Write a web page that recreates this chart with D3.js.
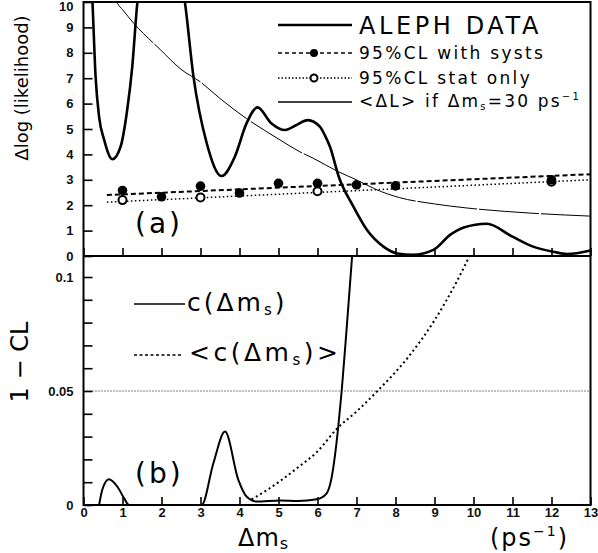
<!DOCTYPE html>
<html>
<head>
<meta charset="utf-8">
<script src="https://cdn.jsdelivr.net/npm/d3@7"></script>
<style>
  body { margin: 0; background: #fff; }
  svg { display: block; font-family: 'DejaVu Sans', sans-serif; }
</style>
</head>
<body>
<svg id="chart" width="598" height="553"></svg>
<script>
// panel (a): ALEPH likelihood curve
const alephX = [0.2, 0.23, 0.31, 0.40, 0.53, 0.74, 0.95, 1.12, 1.25, 1.38, 1.5, 2.5, 2.6, 2.82, 3.16, 3.54, 3.88, 4.18, 4.46, 4.82, 5.17, 5.45, 5.75, 6.06, 6.19, 6.32, 6.55, 6.9, 7.27, 7.69, 8.05, 8.45, 8.97, 9.4, 9.75, 10.34, 11.0, 11.53, 12.04, 12.4, 13.0];
const alephY = [11, 10, 7.06, 5.48, 4.57, 3.81, 4.3, 5.75, 7.45, 9.95, 11, 11, 10, 7.06, 4.44, 3.15, 3.91, 5.22, 5.85, 5.22, 4.96, 5.15, 5.35, 5.09, 4.75, 4.3, 3.1, 2.0, 1.02, 0.37, 0.1, 0.05, 0.24, 0.83, 1.12, 1.27, 0.76, 0.37, 0.17, 0.08, 0.22];

// <ΔL> if Δms = 30 ps-1
const expX = [0.8, 0.87, 1.0, 1.29, 1.98, 2.5, 3.0, 3.5, 4.18, 5.04, 5.55, 5.89, 6.53, 7.0, 7.5, 8.1, 9.0, 9.83, 11.45, 13.0];
const expY = [10.2, 9.95, 9.7, 9.16, 8.11, 7.35, 6.85, 6.2, 5.41, 4.57, 4.1, 3.85, 3.32, 3.0, 2.62, 2.3, 2.05, 1.89, 1.69, 1.57];

// 95% CL points
const systX = [1, 2, 3, 4, 5, 6, 7, 8, 12];
const systY = [2.58, 2.33, 2.75, 2.48, 2.86, 2.86, 2.8, 2.76, 3.0];
const statX = [1, 3, 6, 12];
const statY = [2.2, 2.3, 2.55, 2.92];
const systLineX = [0.6, 13], systLineY = [2.4, 3.22];
const statLineX = [0.6, 13], statLineY = [2.12, 3.0];

// panel (b): 1 - CL
const cX = [0.4, 0.48, 0.65, 0.87, 1.04, 1.17, 2, 3.03, 3.33, 3.63, 3.97, 4.18, 4.44, 5.04, 5.5, 5.98, 6.23, 6.35, 6.45, 6.53, 6.62, 6.75, 6.9];
const cY = [0, 0.0066, 0.0113, 0.008, 0.003, 0, 0, 0, 0.0183, 0.0322, 0.011, 0.0037, 0.0015, 0.002, 0.0018, 0.0025, 0.005, 0.011, 0.022, 0.034, 0.05, 0.078, 0.112];
const cMeanX = [4.31, 4.7, 5.04, 5.5, 6.0, 6.5, 7.0, 7.52, 8.37, 9.0, 9.57, 9.95];
const cMeanY = [0.0025, 0.0065, 0.0105, 0.0165, 0.0235, 0.0335, 0.041, 0.0497, 0.0658, 0.081, 0.098, 0.111];

const xTicks = d3.range(0, 14);
const yTopTicks = d3.range(0, 11);
const yBotTicks = d3.range(0, 11).map(i => i / 100);
const yBotLabels = { 0: '0', 5: '0.05', 10: '0.1' };

const L = 83.5, R = 590.5, T = 2, M = 256, B = 505;
const svg = d3.select('#chart');

const x = d3.scaleLinear().domain([0, 13]).range([L, R]);
const yTop = d3.scaleLinear().domain([0, 10]).range([M, T]);
const yBot = d3.scaleLinear().domain([0, 0.1]).range([B, 277]);

const defs = svg.append('defs');
defs.append('clipPath').attr('id', 'clipA')
  .append('rect').attr('x', L).attr('y', T).attr('width', R - L).attr('height', M - T);
defs.append('clipPath').attr('id', 'clipB')
  .append('rect').attr('x', L).attr('y', M).attr('width', R - L).attr('height', B - M);

const zip = (xs, ys) => xs.map((v, i) => [v, ys[i]]);

// axes
const tickFont = g => g.selectAll('text')
  .attr('font-size', 13).attr('font-weight', 'bold').attr('fill', '#111')
  .attr('font-family', "'Liberation Sans', Arial, sans-serif");

svg.append('g').attr('transform', `translate(${L},0)`)
  .call(d3.axisLeft(yTop).tickValues(yTopTicks).tickSize(-9).tickPadding(10).tickFormat(d3.format('d')))
  .call(g => g.select('.domain').remove())
  .call(tickFont)
  .call(g => g.selectAll('.tick:last-of-type text').attr('dy', '0.62em'))
  .selectAll('line').attr('stroke-width', 1.6);

svg.append('g').attr('transform', `translate(${L},0)`)
  .call(d3.axisLeft(yBot).tickValues(yBotTicks).tickSize(-9).tickPadding(10)
    .tickFormat(d => yBotLabels[Math.round(d * 100)] || ''))
  .call(g => g.select('.domain').remove())
  .call(tickFont)
  .selectAll('line').attr('stroke-width', 1.6);

svg.append('g').attr('transform', `translate(0,${M})`)
  .call(d3.axisBottom(x).tickValues(xTicks).tickSize(-8).tickFormat(''))
  .call(g => g.select('.domain').remove())
  .selectAll('line').attr('stroke-width', 1.6);

svg.append('g').attr('transform', `translate(0,${B})`)
  .call(d3.axisBottom(x).tickValues(xTicks).tickSize(-8).tickPadding(3).tickFormat(d3.format('d')))
  .call(g => g.select('.domain').remove())
  .call(tickFont)
  .selectAll('line').attr('stroke-width', 1.6);

// frame
svg.append('rect').attr('x', L).attr('y', T).attr('width', R - L).attr('height', B - T)
  .attr('fill', 'none').attr('stroke', '#000').attr('stroke-width', 2);
svg.append('line').attr('x1', L).attr('x2', R).attr('y1', M).attr('y2', M)
  .attr('stroke', '#000').attr('stroke-width', 2);

// panel (a)
const gA = svg.append('g').attr('clip-path', 'url(#clipA)');

gA.append('path').datum(zip(expX, expY))
  .attr('d', d3.line().x(d => x(d[0])).y(d => yTop(d[1])).curve(d3.curveMonotoneX))
  .attr('fill', 'none').attr('stroke', '#000').attr('stroke-width', 1).attr('stroke-dasharray', '60,2');

gA.append('path').datum(zip(systLineX, systLineY))
  .attr('d', d3.line().x(d => x(d[0])).y(d => yTop(d[1]))).attr('fill', 'none')
  .attr('stroke', '#000').attr('stroke-width', 2).attr('stroke-dasharray', '5,3');
gA.append('path').datum(zip(statLineX, statLineY))
  .attr('d', d3.line().x(d => x(d[0])).y(d => yTop(d[1]))).attr('fill', 'none')
  .attr('stroke', '#000').attr('stroke-width', 1.5).attr('stroke-dasharray', '1.5,2.5');

gA.append('path').datum(zip(alephX, alephY))
  .attr('d', d3.line().x(d => x(d[0])).y(d => yTop(d[1])).curve(d3.curveMonotoneX))
  .attr('fill', 'none').attr('stroke', '#000').attr('stroke-width', 2.6);

gA.selectAll('circle.stat').data(zip(statX, statY)).join('circle')
  .attr('class', 'stat').attr('cx', d => x(d[0])).attr('cy', d => yTop(d[1]))
  .attr('r', 4).attr('fill', '#fff').attr('stroke', '#000').attr('stroke-width', 2);
gA.selectAll('circle.syst').data(zip(systX, systY)).join('circle')
  .attr('class', 'syst').attr('cx', d => x(d[0])).attr('cy', d => yTop(d[1]))
  .attr('r', 4.8).attr('fill', '#000');

// panel (a) legend
const legA = svg.append('g');
const legRows = [
  { y: 25, dash: null, w: 2.6, mark: null, text: 'ALEPH DATA', size: 24, ls: 3.6 },
  { y: 53, dash: '4,3', w: 1.6, mark: 'filled', text: '95%CL with systs', size: 17, ls: 2.3 },
  { y: 78, dash: '1.5,2', w: 1.5, mark: 'open', text: '95%CL stat only', size: 17, ls: 2.3 },
  { y: 102, dash: null, w: 1.4, mark: null, text: null }
];
legRows.forEach(r => {
  legA.append('line').attr('x1', 278).attr('x2', 352).attr('y1', r.y).attr('y2', r.y)
    .attr('stroke', '#000').attr('stroke-width', r.w).attr('stroke-dasharray', r.dash);
  if (r.mark === 'filled') legA.append('circle').attr('cx', 314).attr('cy', r.y).attr('r', 4).attr('fill', '#000');
  if (r.mark === 'open') legA.append('circle').attr('cx', 314).attr('cy', r.y).attr('r', 3.5)
    .attr('fill', '#fff').attr('stroke', '#000').attr('stroke-width', 2);
  if (r.text) legA.append('text').attr('x', 359).attr('y', r.y).attr('dy', '0.36em')
    .attr('font-size', r.size).attr('letter-spacing', r.ls).text(r.text);
});
const t4 = legA.append('text').attr('x', 359).attr('y', 101).attr('dy', '0.36em')
  .attr('font-size', 17).attr('letter-spacing', 2.2);
t4.append('tspan').text('<ΔL> if Δm');
t4.append('tspan').attr('font-size', 10).attr('dy', 3).text('s');
t4.append('tspan').attr('dy', -3).text('=30 ps');
t4.append('tspan').attr('font-size', 10).attr('dy', -7).text('−1');

svg.append('text').attr('x', 135).attr('y', 223).attr('dy', '0.35em')
  .attr('font-size', 28).attr('letter-spacing', 3).text('(a)');

// panel (b)
const gB = svg.append('g').attr('clip-path', 'url(#clipB)');
gB.append('line').attr('x1', L).attr('x2', R).attr('y1', yBot(0.05)).attr('y2', yBot(0.05))
  .attr('stroke', '#000').attr('stroke-width', 1).attr('stroke-dasharray', '1,2');
gB.append('path').datum(zip(cMeanX, cMeanY))
  .attr('d', d3.line().x(d => x(d[0])).y(d => yBot(d[1])).curve(d3.curveMonotoneX))
  .attr('fill', 'none').attr('stroke', '#000').attr('stroke-width', 2).attr('stroke-dasharray', '2,3');
gB.append('path').datum(zip(cX, cY))
  .attr('d', d3.line().x(d => x(d[0])).y(d => yBot(d[1])).curve(d3.curveMonotoneX))
  .attr('fill', 'none').attr('stroke', '#000').attr('stroke-width', 2);

const legB = svg.append('g');
legB.append('line').attr('x1', 134).attr('x2', 185).attr('y1', 304).attr('y2', 304)
  .attr('stroke', '#000').attr('stroke-width', 1.6);
legB.append('line').attr('x1', 134).attr('x2', 182).attr('y1', 355).attr('y2', 355)
  .attr('stroke', '#000').attr('stroke-width', 1.6).attr('stroke-dasharray', '3,2.5');
const c1 = legB.append('text').attr('x', 187).attr('y', 302).attr('dy', '0.36em')
  .attr('font-size', 25).attr('letter-spacing', 3);
c1.append('tspan').text('c(Δm');
c1.append('tspan').attr('font-size', 15).attr('dy', 4).text('s');
c1.append('tspan').attr('dy', -4).text(')');
const c2 = legB.append('text').attr('x', 189).attr('y', 352).attr('dy', '0.36em')
  .attr('font-size', 25).attr('letter-spacing', 3.5);
c2.append('tspan').text('<c(Δm');
c2.append('tspan').attr('font-size', 15).attr('dy', 4).text('s');
c2.append('tspan').attr('dy', -4).text(')>');

svg.append('text').attr('x', 135).attr('y', 473).attr('dy', '0.35em')
  .attr('font-size', 28).attr('letter-spacing', 3).text('(b)');

// axis titles
svg.append('text').attr('transform', 'translate(28,88) rotate(-90)')
  .attr('text-anchor', 'middle').attr('font-size', 18).text('Δlog (likelihood)');
svg.append('text').attr('transform', 'translate(28,362) rotate(-90)')
  .attr('text-anchor', 'middle').attr('font-size', 24).text('1 − CL');

const xt = svg.append('text').attr('x', 238).attr('y', 546).attr('font-size', 24).attr('letter-spacing', 1);
xt.append('tspan').text('Δm');
xt.append('tspan').attr('font-size', 16).attr('dy', 3).text('s');
const ut = svg.append('text').attr('x', 490).attr('y', 546).attr('font-size', 24).attr('letter-spacing', 2);
ut.append('tspan').text('(ps');
ut.append('tspan').attr('font-size', 14).attr('dy', -10).text('−1');
ut.append('tspan').attr('dy', 10).text(')');
</script>
</body>
</html>
